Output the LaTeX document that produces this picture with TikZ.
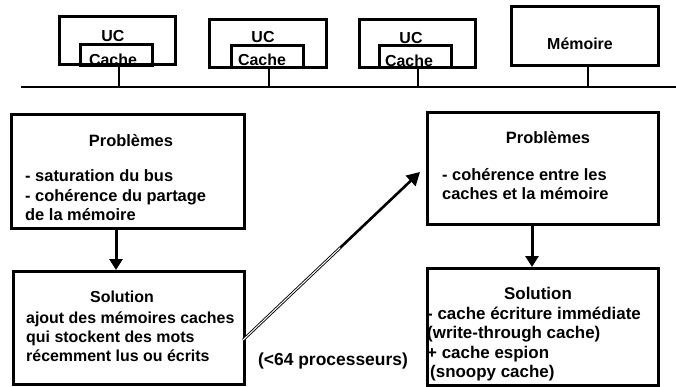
\documentclass[tikz,border=0pt]{standalone}
\usepackage{fontspec}
\setmainfont{Liberation Sans}
\usetikzlibrary{arrows.meta,calc}
\begin{document}
\begin{tikzpicture}[x=1bp,y=-1bp,
  box/.style={draw, line width=2.6bp, inner sep=0pt, anchor=north west},
  txt/.style={font=\bfseries\fontsize{16.5}{19}\selectfont, inner sep=0pt, anchor=base west},
  ttl/.style={font=\bfseries\fontsize{16.5}{19}\selectfont, inner sep=0pt, anchor=base},
  small/.style={font=\bfseries\fontsize{16}{18}\selectfont, inner sep=0pt, anchor=base},
  link/.style={line width=2bp},
  flow/.style={line width=3bp, -{Triangle[length=11bp,width=13bp]}},
  dline/.style={double, line width=0.9bp, double distance=1bp},
  dhead/.style={line width=2.6bp, -{Triangle[length=13bp,width=14bp]}}]
\useasboundingbox (0,0) rectangle (676,386);

% text first, so that box borders are drawn over it
\node[small] (uct1) at (113,41) {UC};
\node[small] (cat1) at (113,65) {Cache};
\node[small] (uct2) at (263,42) {UC};
\node[small] (cat2) at (262,65) {Cache};
\node[small] (uct3) at (411,43) {UC};
\node[small] (cat3) at (409,66) {Cache};
\node[small] (memt) at (580,49) {Mémoire};

\node[ttl] (p1t) at (131,146) {Problèmes};
\node[txt] (p1a) at (25,181) {- saturation du bus};
\node[txt] (p1b) at (25,201) {- cohérence du partage};
\node[txt] (p1c) at (25,220) {de la mémoire};

\node[ttl, font=\bfseries\fontsize{16}{19}\selectfont] (s1t) at (122,302) {Solution};
\node[txt, font=\bfseries\fontsize{16}{19}\selectfont] (s1a) at (26,323) {ajout des mémoires caches};
\node[txt, font=\bfseries\fontsize{16}{19}\selectfont] (s1b) at (26,342) {qui stockent des mots};
\node[txt, font=\bfseries\fontsize{16}{19}\selectfont] (s1c) at (26,361) {récemment lus ou écrits};

\node[ttl] (p2t) at (548,143) {Problèmes};
\node[txt] (p2a) at (442,180) {- cohérence entre les};
\node[txt] (p2b) at (442,199) {caches et la mémoire};

\node[ttl, font=\bfseries\fontsize{17}{19}\selectfont] (s2t) at (538,299) {Solution};
\node[txt, font=\bfseries\fontsize{17}{19}\selectfont] (s2a) at (427,319) {- cache écriture immédiate};
\node[txt, font=\bfseries\fontsize{17}{19}\selectfont] (s2b) at (427,338) {(write-through cache)};
\node[txt, font=\bfseries\fontsize{17}{19}\selectfont] (s2c) at (427,358) {+ cache espion};
\node[txt, font=\bfseries\fontsize{17}{19}\selectfont] (s2d) at (430,377) {(snoopy cache)};

\node[ttl, font=\bfseries\fontsize{17.5}{19}\selectfont] (np) at (333,365) {(<64 processeurs)};

% processors with their caches, and the memory
\node[box, minimum width=116bp, minimum height=48bp] (uc1) at (58,15) {};
\node[box, minimum width=72bp, minimum height=21bp] (c1) at (79,43) {};
\node[box, minimum width=117bp, minimum height=48bp] (uc2) at (208,18) {};
\node[box, minimum width=72bp, minimum height=22bp] (c2) at (230,44) {};
\node[box, minimum width=116bp, minimum height=48bp] (uc3) at (358,18) {};
\node[box, minimum width=72bp, minimum height=22bp] (c3) at (378,44) {};
\node[box, minimum width=147bp, minimum height=59bp] (mem) at (510,5) {};

% bus and its taps
\coordinate (busL) at (21,87);
\coordinate (busR) at (676,87);
\draw[link] (busL) -- (busR);
\coordinate (b1) at (119,87);
\coordinate (b2) at (269,88);
\coordinate (b3) at (418,88);
\coordinate (b4) at (588,87);
\draw[link] (b1 |- c1.south) -- (b1);
\draw[link] (b2 |- c2.south) -- (b2);
\draw[link] (b3 |- c3.south) -- (b3);
\draw[link] (b4 |- mem.south) -- (b4);

% problems and solutions
\node[box, minimum width=233bp, minimum height=114bp] (p1) at (10,113) {};
\node[box, minimum width=231bp, minimum height=113bp] (s1) at (12,270) {};
\node[box, minimum width=231bp, minimum height=112bp] (p2) at (426,111) {};
\node[box, minimum width=231bp, minimum height=117bp] (s2) at (426,267) {};

% arrows
\coordinate (a1) at (116,0);
\coordinate (a2) at (532,0);
\draw[flow] (a1 |- p1.south) -- (a1 |- s1.north);
\draw[flow] (a2 |- p2.south) -- (a2 |- s2.north);
\coordinate (d0) at (243,340);
\coordinate (d1) at (420,172);
\coordinate (dm) at ($(d0)!0.55!(d1)$);
\draw[dline] (d0) -- (dm);
\draw[dhead] (dm) -- (d1);
\end{tikzpicture}
\end{document}
